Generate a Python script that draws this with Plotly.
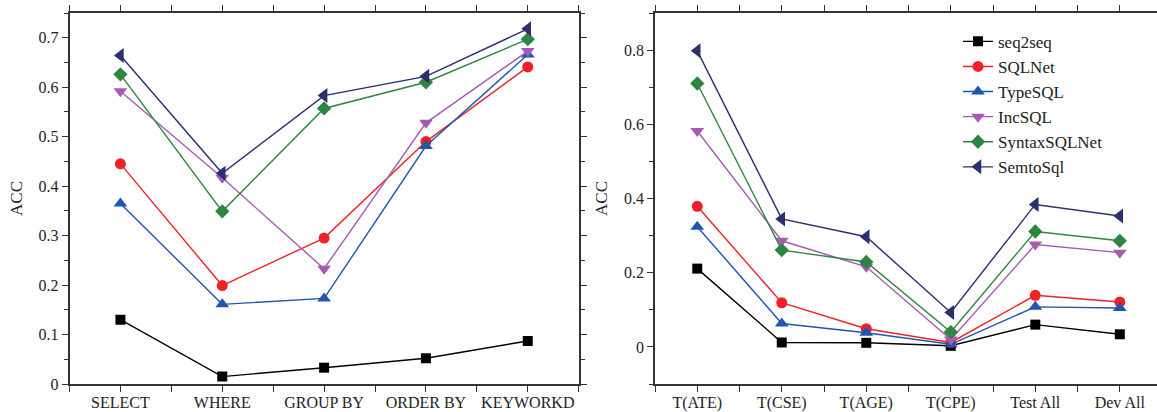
import plotly.graph_objects as go

# ---------------- data ----------------
left_categories = ["SELECT", "WHERE", "GROUP BY", "ORDER BY", "KEYWORKD"]
right_categories = ["T(ATE)", "T(CSE)", "T(AGE)", "T(CPE)", "Test All", "Dev All"]

series_names = ["seq2seq", "SQLNet", "TypeSQL", "IncSQL", "SyntaxSQLNet", "SemtoSql"]

left_seq2seq = [0.130, 0.015, 0.033, 0.052, 0.087]
left_sqlnet = [0.445, 0.199, 0.295, 0.490, 0.641]
left_typesql = [0.365, 0.161, 0.173, 0.481, 0.666]
left_incsql = [0.592, 0.417, 0.233, 0.528, 0.673]
left_syntaxsqlnet = [0.626, 0.349, 0.557, 0.610, 0.697]
left_semtosql = [0.664, 0.426, 0.583, 0.622, 0.718]

right_seq2seq = [0.211, 0.012, 0.011, 0.003, 0.060, 0.034]
right_sqlnet = [0.379, 0.119, 0.049, 0.012, 0.139, 0.121]
right_typesql = [0.324, 0.063, 0.038, 0.007, 0.108, 0.105]
right_incsql = [0.582, 0.286, 0.216, 0.020, 0.276, 0.254]
right_syntaxsqlnet = [0.710, 0.261, 0.229, 0.040, 0.311, 0.286]
right_semtosql = [0.798, 0.345, 0.297, 0.093, 0.384, 0.353]

left_values = [left_seq2seq, left_sqlnet, left_typesql, left_incsql, left_syntaxsqlnet, left_semtosql]
right_values = [right_seq2seq, right_sqlnet, right_typesql, right_incsql, right_syntaxsqlnet, right_semtosql]

# ---------------- styles ----------------
colors = ["#000000", "#EE2127", "#1F56B0", "#A55BB0", "#2E8540", "#2C2F6E"]
symbols = ["square", "circle", "triangle-up", "triangle-down", "diamond", "triangle-left"]
msizes = [10, 11, 12, 12, 11, 13]

W, H = 1157, 412
FONT = "Liberation Serif, Times New Roman, serif"

fig = go.Figure()

for i, name in enumerate(series_names):
    fig.add_trace(go.Scatter(
        x=list(range(len(left_categories))), y=left_values[i],
        mode="lines+markers", name=name, showlegend=False,
        line=dict(color=colors[i], width=1.4),
        marker=dict(symbol=symbols[i], size=msizes[i], color=colors[i]),
        xaxis="x", yaxis="y"))

for i, name in enumerate(series_names):
    fig.add_trace(go.Scatter(
        x=list(range(len(right_categories))), y=right_values[i],
        mode="lines+markers", name=name, showlegend=True,
        line=dict(color=colors[i], width=1.4),
        marker=dict(symbol=symbols[i], size=msizes[i], color=colors[i]),
        xaxis="x2", yaxis="y2"))

axis_common = dict(
    showgrid=False, zeroline=False, showline=True, linecolor="#333333",
    linewidth=1.6, ticks="outside", ticklen=6, tickwidth=1.4, tickcolor="#333333",
    mirror="ticks", tickfont=dict(family=FONT, size=16, color="#222222"),
)

top_px, bot_px = 12.7, 27.5

fig.update_layout(
    width=W, height=H,
    margin=dict(l=0, r=0, t=top_px, b=bot_px, autoexpand=False),
    plot_bgcolor="white", paper_bgcolor="white",
    font=dict(family=FONT, size=16, color="#222222"),
    showlegend=True,
    legend=dict(
        x=958 / W, y=1 - 12 / H, xanchor="left", yanchor="top",
        bgcolor="rgba(0,0,0,0)", borderwidth=0,
        font=dict(family=FONT, size=17, color="#222222"),
        tracegroupgap=0, itemwidth=30,
    ),
    xaxis=dict(
        axis_common, domain=[69.5 / W, 578.7 / W], range=[-0.5, 4.5],
        tickmode="array", tickvals=list(range(len(left_categories))), ticktext=left_categories,
        ticklabelstandoff=-3,
        minor=dict(tickmode="array", tickvals=[k + 0.5 for k in range(-1, len(left_categories))],
                   ticks="outside", ticklen=6, tickwidth=1.4, tickcolor="#333333"),
        anchor="y",
    ),
    yaxis=dict(
        axis_common, range=[0, 0.75], dtick=0.1, tick0=0,
        minor=dict(dtick=0.05, ticks="outside", ticklen=4, tickwidth=1.2, tickcolor="#333333"),
        title=dict(text="ACC", font=dict(family=FONT, size=17), standoff=12),
        anchor="x",
    ),
    xaxis2=dict(
        axis_common, domain=[655 / W, 1.0], range=[-0.5, 5.44],
        tickmode="array", tickvals=list(range(len(right_categories))), ticktext=right_categories,
        ticklabelstandoff=-3,
        minor=dict(tickmode="array", tickvals=[k + 0.5 for k in range(-1, len(right_categories))],
                   ticks="outside", ticklen=6, tickwidth=1.4, tickcolor="#333333"),
        anchor="y2",
    ),
    yaxis2=dict(
        axis_common, range=[-0.1, 0.9], dtick=0.2, tick0=0, mirror=False,
        minor=dict(dtick=0.1, ticks="outside", ticklen=4, tickwidth=1.2, tickcolor="#333333"),
        title=dict(text="ACC", font=dict(family=FONT, size=17), standoff=12),
        anchor="x2",
    ),
)

fig.write_html("out.html", config={"displayModeBar": False},
               post_script="document.body.style.margin='0';")
